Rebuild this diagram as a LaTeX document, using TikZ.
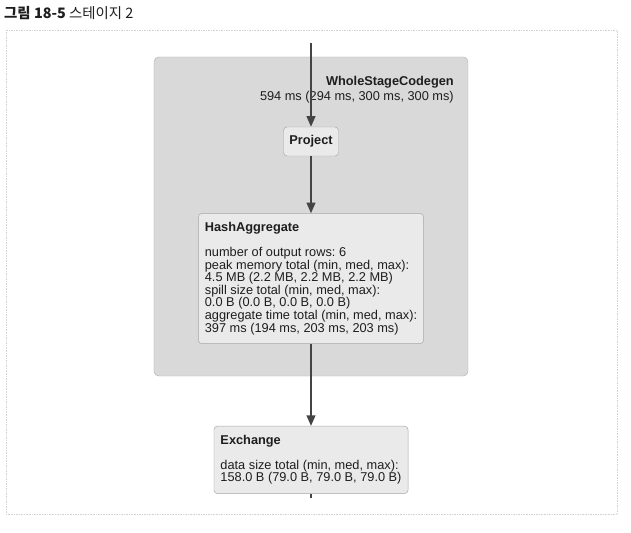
\documentclass[tikz,border=0pt]{standalone}
\usepackage{fontspec}
\setmainfont{Liberation Sans}
\newfontfamily\krfont{Noto Sans CJK KR}
\usetikzlibrary{positioning,arrows.meta}
\definecolor{clusterfill}{HTML}{D9D9D9}
\definecolor{clusterline}{HTML}{B4B4B4}
\definecolor{boxfill}{HTML}{EAEAEA}
\definecolor{boxline}{HTML}{A6A6A6}
\definecolor{edgecol}{HTML}{444444}
\definecolor{txtcol}{HTML}{1E1E1E}
\frenchspacing

\begin{document}
\begin{tikzpicture}[x=0.03cm,y=-0.03cm,
every node/.style={font=\fontsize{10.9}{10.7}\selectfont,text=txtcol},
opbox/.style={draw=boxline,fill=boxfill,rounded corners=3pt,align=left,inner xsep=0.195cm,inner ysep=0.27cm},
cluster/.style={draw=clusterline,fill=clusterfill,rounded corners=4pt,inner sep=0pt},
edge/.style={->,draw=edgecol,line width=1.3pt},
>={Triangle[length=9pt,width=7.5pt]}]
\useasboundingbox (0,0) rectangle (631,533);
\draw[gray!35,densely dotted] (6,30) rectangle (617,514);
\node (title) [anchor=west,inner sep=0pt,font=\krfont\fontsize{12.3}{14}\selectfont] at (4,13)
  {\textbf{그림 18-5} 스테이지 2};
\node (wscg) [cluster,minimum width=9.42cm,minimum height=9.57cm] at (311,216.5) {};
\node (wscglabel) [anchor=north east,align=right,inner sep=0pt,font=\fontsize{10.9}{12.6}\selectfont] at (454,76)
  {\textbf{WholeStageCodegen}\\594 ms (294 ms, 300 ms, 300 ms)};
\node (project) [opbox,align=center,inner sep=0pt,minimum width=1.65cm,minimum height=0.87cm] at (311,141.5)
  {\textbf{Project}};
\node (hashagg) [opbox,below=1.71cm of project]
  {\textbf{HashAggregate}\\[10.7pt]
   number of output rows: 6\\
   peak memory total (min, med, max):\\
   4.5 MB (2.2 MB, 2.2 MB, 2.2 MB)\\
   spill size total (min, med, max):\\
   0.0 B (0.0 B, 0.0 B, 0.0 B)\\
   aggregate time total (min, med, max):\\
   397 ms (194 ms, 203 ms, 203 ms)};
\node (exchange) [opbox,below=2.46cm of hashagg]
  {\textbf{Exchange}\\[10.7pt]
   data size total (min, med, max):\\
   158.0 B (79.0 B, 79.0 B, 79.0 B)};
\coordinate (in) at (311,43);
\coordinate (out) at (311,498);
\draw[edge] (in) -- (project);
\draw[edge] (project) -- (hashagg);
\draw[edge] (hashagg) -- (exchange);
\draw[edge,-] (exchange) -- (out);
\end{tikzpicture}
\end{document}
